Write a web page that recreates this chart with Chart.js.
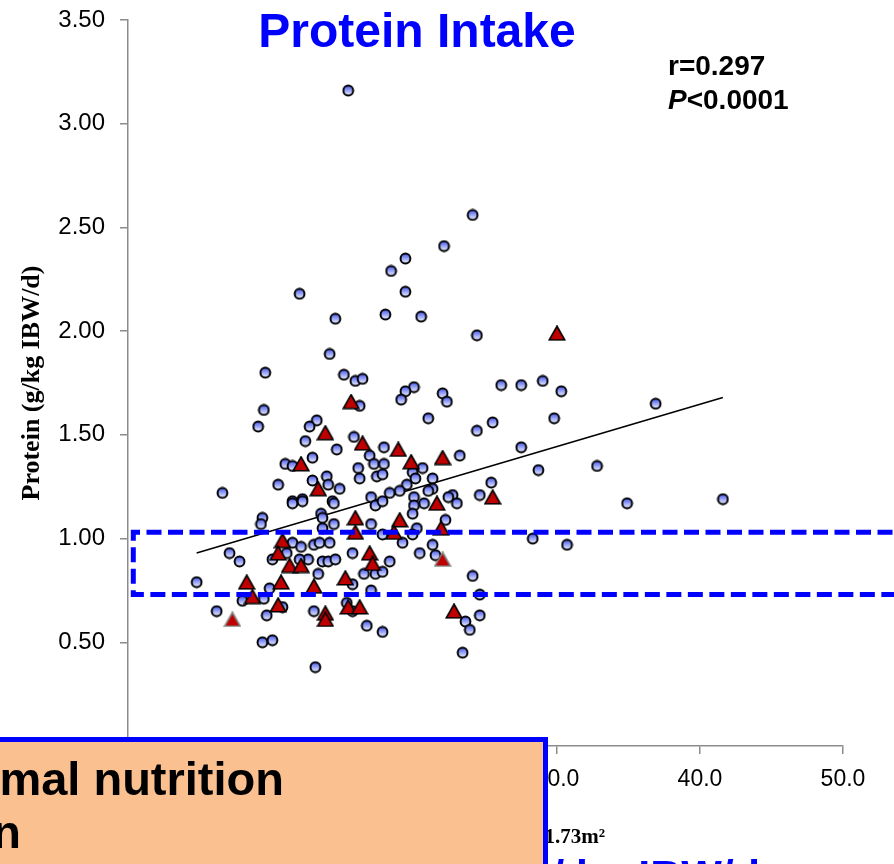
<!DOCTYPE html>
<html lang="en">
<head>
<meta charset="UTF-8">
<title>Protein Intake</title>
<script src="https://cdn.jsdelivr.net/npm/chart.js@4.4.0/dist/chart.umd.min.js"></script>
<style>
  html, body { margin: 0; padding: 0; background: #fff; }
  #wrap { position: relative; width: 894px; height: 864px; overflow: hidden; }
</style>
</head>
<body>
<div id="wrap"><canvas id="myChart" width="894" height="864"></canvas></div>
<script>
// blue circles
const circleX = [15.4,24.1,22.1,19.4,18.4,12.0,19.4,14.5,18.0,20.5,24.4,14.1,9.6,15.1,15.9,16.4,16.2,9.5,9.1,13.2,
  12.7,15.8,12.4,14.6,16.9,12.9,17.2,11.0,11.5,16.1,16.2,13.9,12.9,14.0,14.8,10.5,6.6,17.0,12.2,11.5,
  14.3,26.1,27.5,29.0,30.3,20.0,19.4,19.1,22.0,22.3,21.0,29.8,25.5,24.4,27.5,23.2,17.9,17.9,20.6,19.9,
  28.7,20.1,17.4,17.8,21.3,21.3,21.0,25.4,19.5,19.0,18.3,24.6,22.7,22.4,20.0,11.5,12.2,14.4,9.4,9.3,
  13.5,13.6,14.4,17.0,13.6,7.1,7.8,11.5,12.1,13.0,13.4,14.1,11.1,10.1,12.6,12.0,13.6,14.0,14.5,15.7,
  13.3,4.8,15.7,16.5,17.0,9.9,9.5,8.0,10.8,6.2,9.7,13.0,15.3,15.7,16.7,9.4,10.1,13.1,23.0,20.7,
  20.0,17.3,17.8,22.2,19.9,20.2,19.9,17.8,19.2,28.3,20.4,21.3,21.5,18.3,17.3,17.8,24.1,24.6,24.6,23.6,
  23.9,17.8,23.4,36.9,32.8,34.9,41.6,30.7];
const circleY = [3.16,2.56,2.41,2.35,2.29,2.18,2.19,2.06,2.08,2.07,1.98,1.89,1.80,1.79,1.76,1.77,1.64,1.62,1.54,1.57,
  1.54,1.49,1.47,1.43,1.40,1.39,1.36,1.36,1.35,1.34,1.29,1.30,1.28,1.26,1.24,1.26,1.22,1.20,1.19,1.18,
  1.18,1.74,1.74,1.76,1.71,1.73,1.71,1.67,1.70,1.66,1.58,1.58,1.56,1.52,1.44,1.40,1.44,1.36,1.34,1.32,
  1.33,1.29,1.30,1.31,1.29,1.24,1.23,1.27,1.26,1.23,1.22,1.21,1.21,1.20,1.20,1.17,1.18,1.17,1.10,1.07,
  1.12,1.10,1.07,1.07,1.05,0.93,0.89,0.98,0.96,0.97,0.98,0.98,0.93,0.90,0.90,0.90,0.89,0.89,0.90,0.93,
  0.83,0.79,0.78,0.83,0.75,0.76,0.71,0.70,0.67,0.65,0.63,0.65,0.69,0.65,0.58,0.50,0.51,0.38,1.17,1.17,
  1.16,1.16,1.18,1.09,1.12,1.05,1.02,1.02,0.98,1.00,0.93,0.97,0.92,0.89,0.83,0.84,0.82,0.73,0.63,0.60,
  0.56,0.55,0.45,1.65,1.35,1.17,1.19,0.97];

// red triangles
const triX = [30.0,15.6,13.8,16.4,12.1,13.3,18.9,19.8,22.0,25.5,21.6,15.9,15.9,10.8,10.5,11.3,12.1,16.9,17.1,8.3,
  10.7,13.0,15.2,8.7,10.5,13.8,13.8,15.4,16.2,19.0,21.9,18.6,22.8];
const triY = [1.99,1.66,1.51,1.46,1.36,1.24,1.43,1.37,1.39,1.20,1.17,1.10,1.03,0.99,0.93,0.87,0.87,0.93,0.88,0.79,
  0.79,0.77,0.81,0.72,0.68,0.64,0.61,0.67,0.67,1.09,1.05,1.03,0.65];

// red triangles with grey outline
const greyTriX = [7.3, 22.0];
const greyTriY = [0.61, 0.90];

// regression line
const trendX = [4.8, 41.6];
const trendY = [0.93, 1.68];

// dashed target band
const bandLow = 0.73;
const bandHigh = 1.03;
const bandStartX = 0.37;

const xTicks = [0, 10, 20, 30, 40, 50];
const yTicks = [0, 0.5, 1, 1.5, 2, 2.5, 3, 3.5];

function toPoints(xs, ys) {
  return xs.map((x, i) => ({ x: x, y: ys[i] }));
}

function circleImg() {
  const c = document.createElement('canvas');
  c.width = 13; c.height = 13;
  const g = c.getContext('2d');
  const grad = g.createLinearGradient(0, 1.5, 0, 11.5);
  grad.addColorStop(0, '#4456ee');
  grad.addColorStop(1, '#f2f5ff');
  g.beginPath();
  g.arc(6.5, 6.5, 4.9, 0, Math.PI * 2);
  g.fillStyle = grad;
  g.fill();
  g.lineWidth = 2;
  g.strokeStyle = '#000';
  g.stroke();
  return c;
}

function triImg(edge) {
  const c = document.createElement('canvas');
  c.width = 18; c.height = 16;
  const g = c.getContext('2d');
  g.beginPath();
  g.moveTo(9, 1);
  g.lineTo(16.8, 14.8);
  g.lineTo(1.2, 14.8);
  g.closePath();
  g.fillStyle = '#c00000';
  g.fill();
  g.lineWidth = 1.6;
  g.strokeStyle = edge;
  g.stroke();
  return c;
}

Chart.defaults.font.family = '"Liberation Sans", Arial, sans-serif';
Chart.defaults.color = '#000';

const overlay = {
  id: 'overlay',
  afterDatasetsDraw(chart) {
    const ctx = chart.ctx;
    const xs = chart.scales.x, ys = chart.scales.y;
    const x0 = xs.getPixelForValue(bandStartX);
    const yTop = ys.getPixelForValue(bandHigh);
    const yBot = ys.getPixelForValue(bandLow);
    ctx.save();
    ctx.strokeStyle = '#0000ff';
    ctx.lineWidth = 5;
    ctx.setLineDash([15, 6.5]);
    ctx.beginPath();
    ctx.moveTo(chart.width + 20, yTop);
    ctx.lineTo(x0, yTop);
    ctx.lineTo(x0, yBot);
    ctx.lineTo(chart.width + 20, yBot);
    ctx.stroke();
    ctx.restore();
  },
  afterDraw(chart) {
    const ctx = chart.ctx;
    ctx.save();
    // title
    ctx.fillStyle = '#0000ff';
    ctx.font = 'bold 48px "Liberation Sans", Arial, sans-serif';
    ctx.textAlign = 'center';
    ctx.textBaseline = 'alphabetic';
    ctx.fillText('Protein Intake', 417, 47);

    // stats
    ctx.fillStyle = '#000';
    ctx.textAlign = 'left';
    ctx.font = 'bold 28px "Liberation Sans", Arial, sans-serif';
    ctx.fillText('r=0.297', 668, 75);
    ctx.font = 'italic bold 28px "Liberation Sans", Arial, sans-serif';
    ctx.fillText('P', 668, 109);
    const pw = ctx.measureText('P').width;
    ctx.font = 'bold 28px "Liberation Sans", Arial, sans-serif';
    ctx.fillText('<0.0001', 668 + pw, 109);

    // x axis title
    ctx.font = 'bold 21px "Liberation Serif", "Times New Roman", serif';
    ctx.textAlign = 'right';
    ctx.fillText('eGFR, ml/min/1.73m\u00b2', 605, 843);

    // blue subtitle
    ctx.fillStyle = '#0000ff';
    ctx.font = 'bold 43px "Liberation Sans", Arial, sans-serif';
    ctx.textAlign = 'left';
    ctx.fillText('g / kg IBW/d', 514, 890);

    // orange box
    ctx.fillStyle = '#fac090';
    ctx.fillRect(-10, 737, 558, 140);
    ctx.strokeStyle = '#0000ff';
    ctx.lineWidth = 5;
    ctx.beginPath();
    ctx.moveTo(-10, 739.5);
    ctx.lineTo(545.5, 739.5);
    ctx.lineTo(545.5, 880);
    ctx.stroke();

    ctx.fillStyle = '#000';
    ctx.font = 'bold 47px "Liberation Sans", Arial, sans-serif';
    ctx.textAlign = 'right';
    ctx.fillText('Optimal nutrition', 284, 795);
    ctx.fillText('region', 21, 848);
    ctx.restore();
  }
};

const ctx = document.getElementById('myChart').getContext('2d');
const myChart = new Chart(ctx, {
  type: 'scatter',
  data: {
    datasets: [
      { label: 'Triangles', data: toPoints(triX, triY), pointStyle: triImg('#000'), pointRadius: 7 },
      { label: 'Grey', data: toPoints(greyTriX, greyTriY), pointStyle: triImg('#7f7f7f'), pointRadius: 7 },
      { label: 'Circles', data: toPoints(circleX, circleY), pointStyle: circleImg(), pointRadius: 6 },
      { label: 'Trend', data: toPoints(trendX, trendY), showLine: true, pointRadius: 0,
        borderColor: '#000', borderWidth: 1.5 }
    ]
  },
  options: {
    responsive: false,
    animation: false,
    layout: { padding: { top: 20, right: 51, bottom: 0, left: 0 } },
    plugins: { legend: { display: false }, tooltip: { enabled: false } },
    scales: {
      x: {
        type: 'linear', min: 0, max: 50,
        afterBuildTicks: s => { s.ticks = xTicks.map(v => ({ value: v })); },
        afterFit: s => { s.height = 118; },
        ticks: { callback: v => v.toFixed(1), font: { size: 23 }, padding: 12, maxRotation: 0 },
        grid: { drawOnChartArea: false, drawTicks: true, tickLength: 8, color: '#8c8c8c', lineWidth: 1.5 },
        border: { color: '#8c8c8c', width: 1.5 }
      },
      y: {
        min: 0, max: 3.5,
        afterBuildTicks: s => { s.ticks = yTicks.map(v => ({ value: v })); },
        afterFit: s => { s.width = 128; s.paddingTop = 10; s.paddingBottom = 10; },
        ticks: { callback: v => (v === 0 ? '' : v.toFixed(2)), font: { size: 24 }, padding: 15 },
        grid: { drawOnChartArea: false, drawTicks: true, tickLength: 8, color: '#8c8c8c', lineWidth: 1.5 },
        border: { color: '#8c8c8c', width: 1.5 },
        title: { display: true, text: 'Protein (g/kg IBW/d)', padding: { top: 17 },
          font: { family: '"Liberation Serif", "Times New Roman", serif', size: 26, weight: 'bold' } }
      }
    }
  },
  plugins: [overlay]
});
</script>
</body>
</html>
